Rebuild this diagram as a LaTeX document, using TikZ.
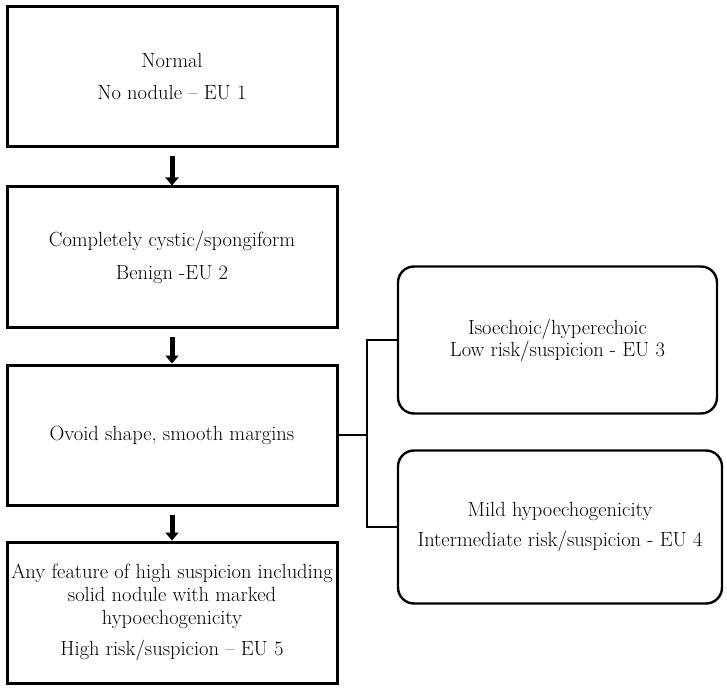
\documentclass[tikz,border=0pt]{standalone}
\usetikzlibrary{arrows.meta}
\begin{document}
\begin{tikzpicture}[x=1pt,y=-1pt,
  txt/.style={font=\fontsize{20.5}{23}\selectfont, align=center, inner sep=0pt, text=black},
  sqbox/.style={txt, draw=black, line width=3pt, minimum width=330pt, minimum height=140pt},
  rbox/.style={txt, draw=black, line width=2.4pt, rounded corners=16pt},
  arr/.style={line width=5pt, -{Triangle[width=13pt,length=8pt]}, shorten <=8pt},
  conn/.style={line width=1.4pt}]
\useasboundingbox (0,0) rectangle (727,692);
\node[sqbox] (b1) at (172,77) {Normal\\[9pt]No nodule -- EU 1};
\node[sqbox] (b2) at (172,257) {Completely cystic/spongiform\\[10pt]Benign -EU 2};
\node[sqbox] (b3) at (172,435) {Ovoid shape, smooth margins};
\node[sqbox, minimum height=141pt] (b4) at (172,612.5) {Any feature of high suspicion including\\solid nodule with marked\\hypoechogenicity\\[8pt]High risk/suspicion -- EU 5};
\node[rbox, minimum width=319pt, minimum height=147pt] (b3r) at (557.5,340) {Isoechoic/hyperechoic\\[-1pt]Low risk/suspicion - EU 3};
\node[rbox, minimum width=324pt, minimum height=153pt] (b4r) at (560,527) {Mild hypoechogenicity\\[7pt]Intermediate risk/suspicion - EU 4};
\coordinate (j1) at (367,340);
\coordinate (j2) at (367,527);
\draw[arr] (b1.south) -- (b2.north);
\draw[arr] (b2.south) -- (b3.north);
\draw[arr] (b3.south) -- (b4.north);
\draw[conn] (b3.east) -- (b3.east -| j1);
\draw[conn] (b3r.west) -- (b3r.west -| j1) -- (b4r.west -| j1) -- (b4r.west);
\end{tikzpicture}
\end{document}
